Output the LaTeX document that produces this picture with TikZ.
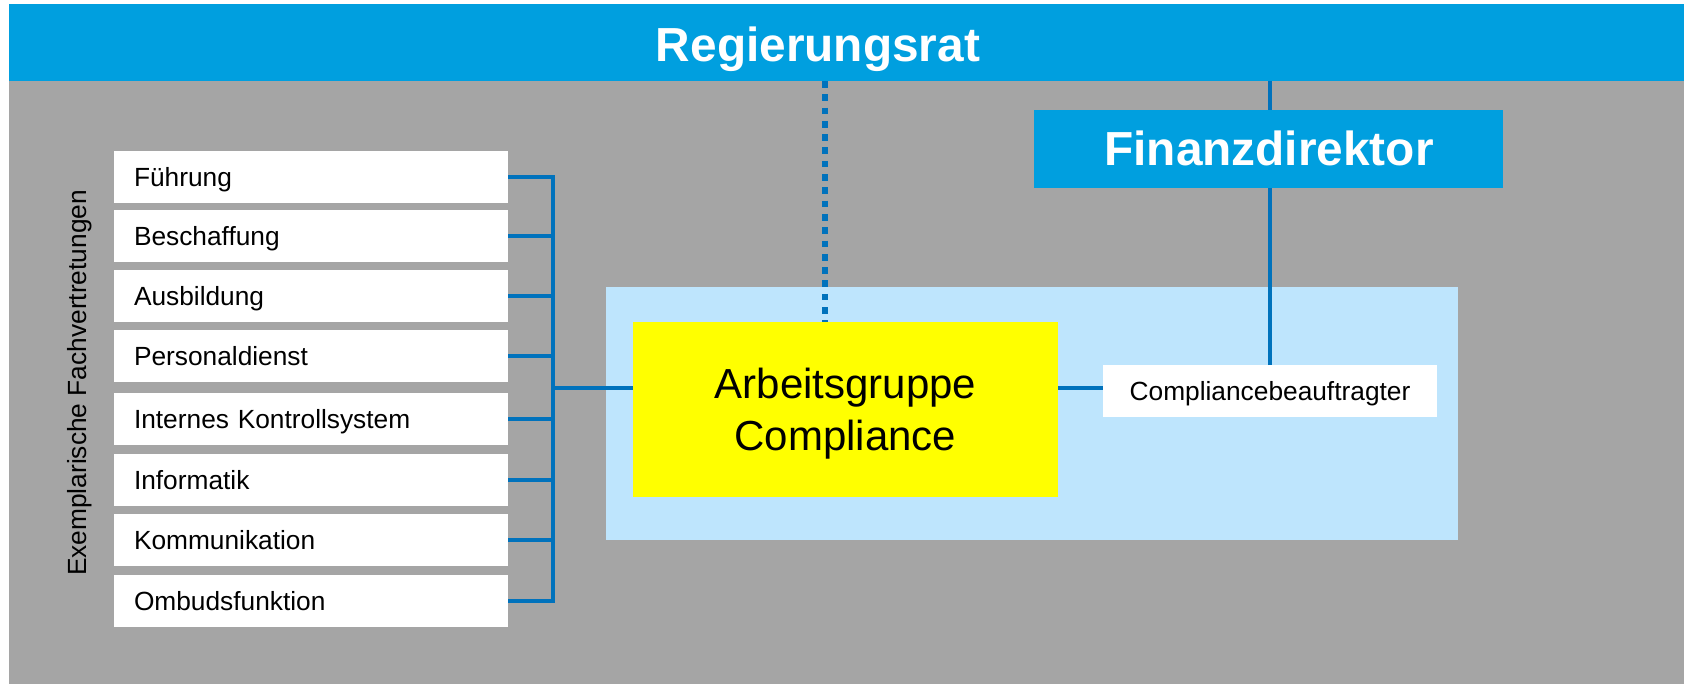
\documentclass[tikz,border=0pt]{standalone}
\usepackage{fontspec}
\setmainfont{Liberation Sans}
\definecolor{barblue}{RGB}{0,159,223}
\definecolor{linkblue}{RGB}{0,114,188}
\definecolor{bggrey}{RGB}{165,165,165}
\definecolor{paleblue}{RGB}{190,229,253}
\definecolor{agyellow}{RGB}{255,255,0}
\tikzset{
  plain/.style={inner sep=0pt, outer sep=0pt},
  areabox/.style={plain, draw=none},
  fbox/.style={plain, fill=white, minimum width=394pt, minimum height=52pt,
    text width=354pt, inner xsep=20pt, align=left,
    font=\fontsize{26.3}{30}\selectfont, text height=19pt, text depth=0pt},
  link/.style={draw=linkblue, line width=4.8pt},
  dotlink/.style={draw=linkblue, line width=5.2pt, dash pattern=on 6.7pt off 6.6pt},
  headtext/.style={plain, text=white, font=\bfseries\fontsize{47.8}{52}\selectfont,
    text height=35pt, text depth=0pt},
}
\begin{document}
\begin{tikzpicture}[x=1pt, y=-1pt]
  \useasboundingbox (0,0) rectangle (1688,684);
  \fill[white] (0,0) rectangle (1688,684);
  % grey area and blue bar
  \fill[bggrey] (9,81) rectangle (1684,684);
  \node[areabox, fill=barblue, minimum width=1675pt, minimum height=77pt] (rr) at (846.5,42.5) {};
  \node[headtext] (rrtext) at (818,44.5) {Regierungsrat};

  % light blue area
  \node[areabox, fill=paleblue, minimum width=852pt, minimum height=253pt] (area) at (1032,413.5) {};

  % Compliancebeauftragter
  \node[plain, fill=white, minimum width=334pt, minimum height=52pt,
        font=\fontsize{26.3}{30}\selectfont, text height=19pt, text depth=0pt] (cb) at (1270,391) {Compliancebeauftragter};

  % vertical line Regierungsrat -> Compliancebeauftragter (behind Finanzdirektor)
  \draw[link] (cb.north) -- (cb.north |- rr.south);

  % Finanzdirektor
  \node[plain, fill=barblue, minimum width=469pt, minimum height=78pt] (fd) at (1268.5,149) {};
  \node[headtext] (fdtext) at (1269,148.5) {Finanzdirektor};

  % Arbeitsgruppe Compliance
  \node[plain, fill=agyellow, minimum width=425pt, minimum height=175pt,
        align=center, font=\fontsize{42}{52}\selectfont, text depth=0pt] (ag) at (845.5,409.5) {Arbeitsgruppe\\Compliance};

  % dotted line from Regierungsrat
  \coordinate (dotx) at (825,0);
  \draw[dotlink] (rr.south -| dotx) -- (ag.north -| dotx);

  % left boxes
  \node[fbox] (b1) at (311,177) {Führung};
  \node[fbox] (b2) at (311,236) {Beschaffung};
  \node[fbox] (b3) at (311,296) {Ausbildung};
  \node[fbox] (b4) at (311,356) {Personaldienst};
  \node[fbox] (b5) at (311,419) {Internes Kontrollsystem};
  \node[fbox] (b6) at (311,480) {Informatik};
  \node[fbox] (b7) at (311,540) {Kommunikation};
  \node[fbox] (b8) at (311,601) {Ombudsfunktion};

  \node[plain, rotate=90, anchor=base, font=\fontsize{26.3}{30}\selectfont] (ex) at (86,383) {Exemplarische Fachvertretungen};

  % bus
  \coordinate (busx) at (553,0);
  \coordinate (hy) at (0,388);
  \foreach \b in {b1,b2,b3,b4,b5,b6,b7,b8}
    \draw[link] (\b.east) -- (\b.east -| busx);
  \draw[link, line cap=rect] (b1.east -| busx) -- (b8.east -| busx);
  \draw[link] (hy -| busx) -- (hy -| ag.west);
  \draw[link] (hy -| ag.east) -- (hy -| cb.west);
\end{tikzpicture}
\end{document}
